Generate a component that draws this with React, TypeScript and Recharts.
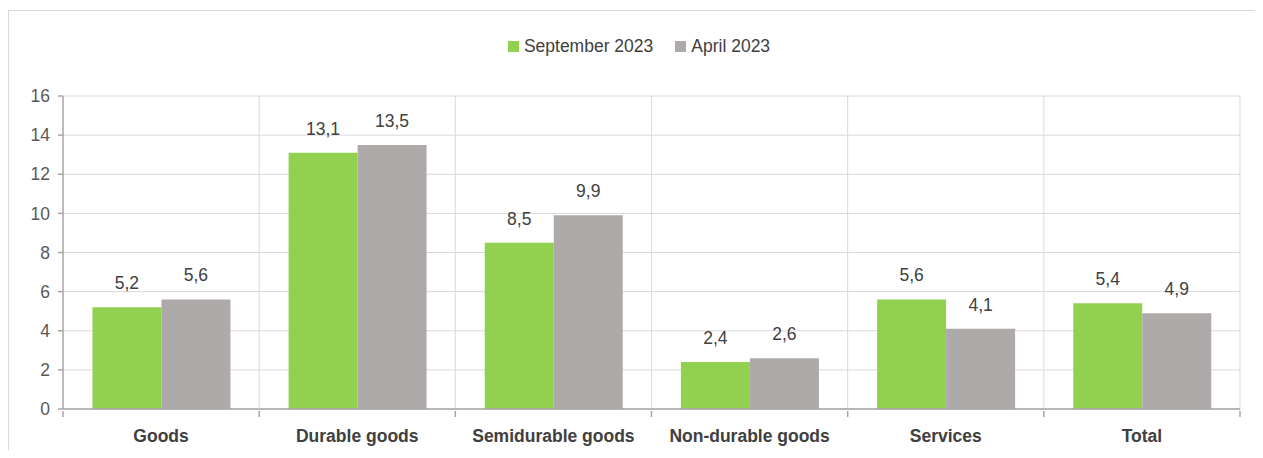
import { BarChart, Bar, XAxis, YAxis, CartesianGrid, LabelList } from "recharts";

const categories = ["Goods", "Durable goods", "Semidurable goods", "Non-durable goods", "Services", "Total"];
const september2023 = [5.2, 13.1, 8.5, 2.4, 5.6, 5.4];
const april2023 = [5.6, 13.5, 9.9, 2.6, 4.1, 4.9];
const yTicks = [0, 2, 4, 6, 8, 10, 12, 14, 16];

const SERIES = [
  { key: "sep", name: "September 2023", color: "#92d050" },
  { key: "apr", name: "April 2023", color: "#aeaaaa" },
];

const data = categories.map((name, i) => ({ name, sep: september2023[i], apr: april2023[i] }));

const AXIS = "#a6a6a6";
const GRID = "#d9d9d9";
const FONT = "'Liberation Sans', Arial, sans-serif";

const fmt = (v: unknown) => String(v).replace(".", ",");

function CategoryTick(props: any) {
  const { x, y, payload, index } = props;
  const half = payload.offset ?? 0;
  return (
    <g>
      <line x1={x - half} y1={y} x2={x - half} y2={y + 6} stroke={AXIS} strokeWidth={1.5} />
      {index === categories.length - 1 && (
        <line x1={x + half} y1={y} x2={x + half} y2={y + 6} stroke={AXIS} strokeWidth={1.5} />
      )}
      <text x={x} y={y + 31} textAnchor="middle" fill="#404040" fontSize={17.5} fontWeight="bold" fontFamily={FONT}>
        {payload.value}
      </text>
    </g>
  );
}

export default function App() {
  return (
    <div
      style={{
        position: "relative",
        marginTop: 2,
        marginBottom: -8,
        width: 1255,
        height: 448,
        overflow: "hidden",
        borderTop: "1px solid #d9d9d9",
        borderLeft: "1px solid #d9d9d9",
        boxSizing: "border-box",
        fontFamily: FONT,
      }}
    >
      <div
        style={{
          position: "absolute",
          top: 25,
          left: 0,
          width: 1254,
          display: "flex",
          justifyContent: "center",
          gap: 22,
          fontSize: 17.5,
          color: "#404040",
          paddingLeft: 6,
          boxSizing: "border-box",
        }}
      >
        {SERIES.map((s) => (
          <div key={s.key} style={{ display: "flex", alignItems: "center" }}>
            <span style={{ width: 11, height: 11, background: s.color, marginRight: 5, display: "inline-block" }} />
            {s.name}
          </div>
        ))}
      </div>
      <BarChart
        width={1253}
        height={447}
        data={data}
        margin={{ top: 85, right: 22, left: 0, bottom: 9 }}
        barCategoryGap="15%"
        barGap={0}
      >
        <CartesianGrid
          stroke={GRID}
          strokeWidth={1}
          verticalCoordinatesGenerator={({ offset }: any) =>
            categories.slice(1).map((_, i) => offset.left + ((i + 1) * offset.width) / categories.length).concat(offset.left + offset.width)
          }
        />
        <XAxis
          dataKey="name"
          height={40}
          interval={0}
          axisLine={{ stroke: AXIS, strokeWidth: 1.5 }}
          tickLine={false}
          tickSize={0}
          tick={<CategoryTick />}
        />
        <YAxis
          width={54}
          domain={[0, 16]}
          ticks={yTicks}
          interval={0}
          axisLine={{ stroke: AXIS, strokeWidth: 1.5 }}
          tickLine={{ stroke: AXIS, strokeWidth: 1.5 }}
          tickSize={5}
          tickMargin={8}
          tick={{ fill: "#595959", fontSize: 17.5, fontFamily: FONT }}
        />
        {SERIES.map((s) => (
          <Bar key={s.key} dataKey={s.key} name={s.name} fill={s.color} isAnimationActive={false}>
            <LabelList
              dataKey={s.key}
              position="top"
              offset={18}
              formatter={fmt}
              fill="#404040"
              fontSize={17.5}
              fontFamily={FONT}
            />
          </Bar>
        ))}
      </BarChart>
    </div>
  );
}
